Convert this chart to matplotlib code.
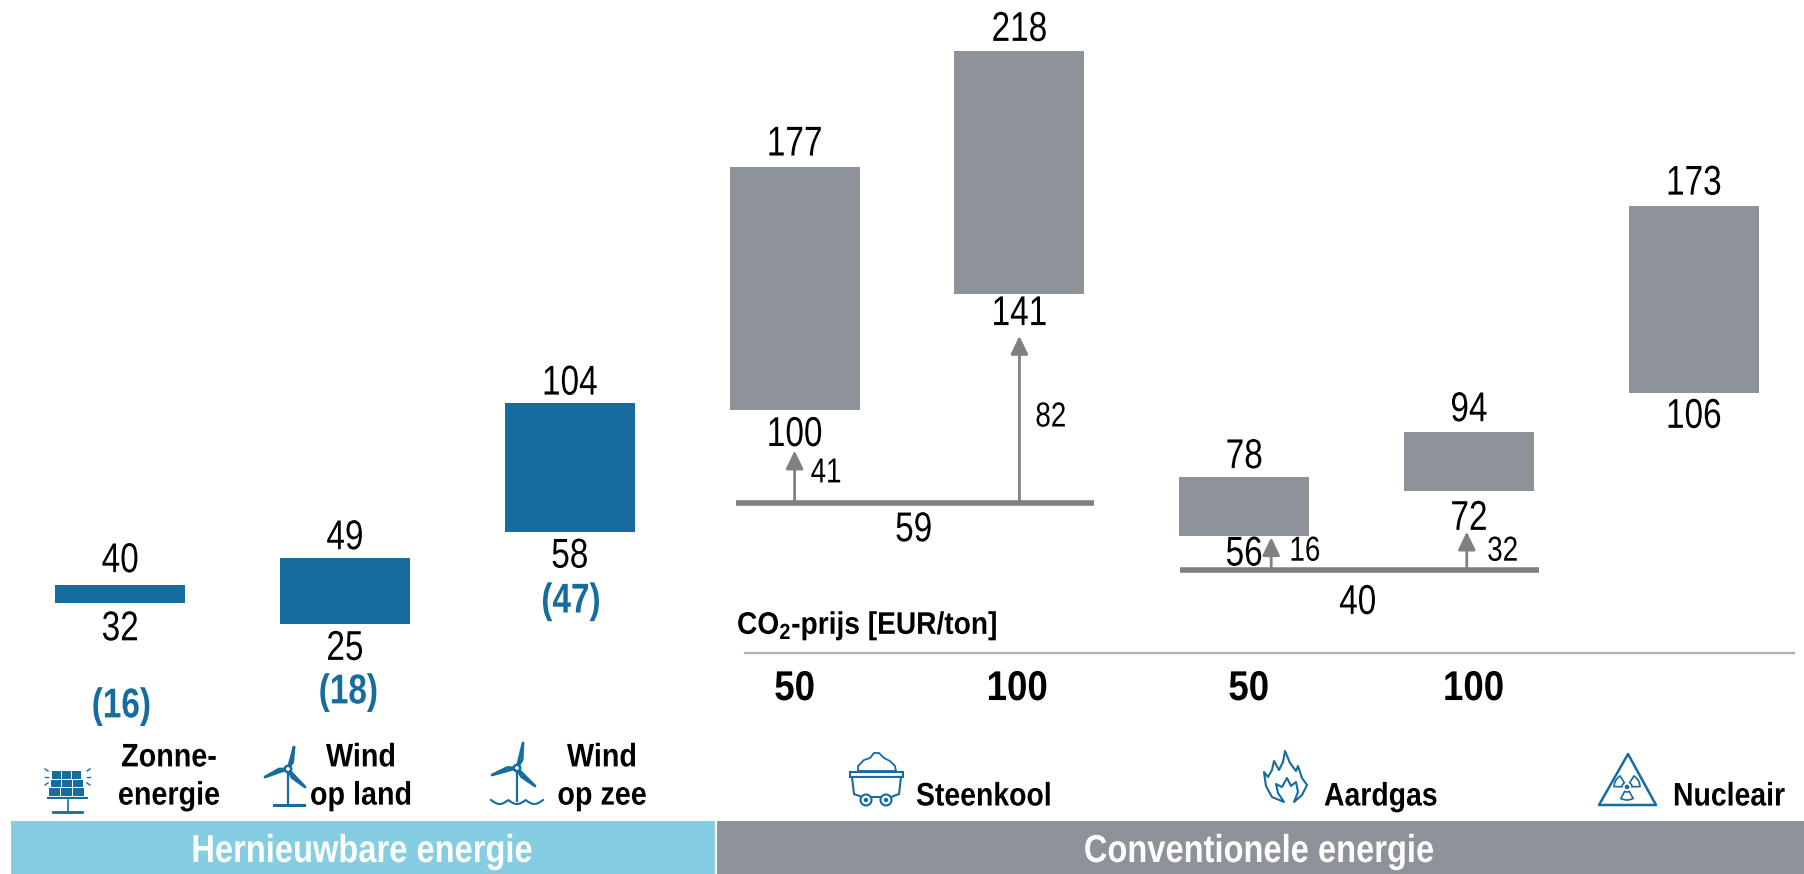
import matplotlib
matplotlib.use("Agg")
import matplotlib.pyplot as plt
import matplotlib.patheffects as pe
from matplotlib.patches import Rectangle, Polygon, Circle, Wedge
from matplotlib.transforms import Affine2D
import numpy as np

plt.rcParams['font.family'] = ['Liberation Sans', 'DejaVu Sans']

# printed values
high_labels = [40, 49, 104, 177, 218, 78, 94, 173]
low_labels = [32, 25, 58, 100, 141, 56, 72, 106]
paren_labels = ['(16)', '(18)', '(47)']
co2_prices = ['50', '100', '50', '100']
categories = ['Zonne-\nenergie', 'Wind\nop land', 'Wind\nop zee']
fuel_names = ['Steenkool', 'Aardgas', 'Nucleair']
group_names = ['Hernieuwbare energie', 'Conventionele energie']
base_labels = [59, 40]
arrow_labels = [41, 82, 16, 32]

# bar ends as drawn in the picture (the picture is not quite to scale)
bar_high = [39, 48.5, 104, 188.5, 230, 77.5, 93.5, 174.5]
bar_low = [32.5, 25, 58, 101.5, 143, 56.5, 72.5, 107.5]
base_levels = [68.3, 44.3]
arrow_tops = [87, 128, 56, 58]

BLUE = '#166b9f'
GREY = '#8e9299'
LINE = '#808080'
W, H = 1804, 874


class Condense(pe.AbstractPathEffect):
    # no narrow font installed, so squeeze the glyphs sideways round cx
    def __init__(self, sx, cx):
        super().__init__()
        self.sx = sx
        self.cx = cx

    def draw_path(self, renderer, gc, tpath, affine, rgbFace=None):
        squeeze = Affine2D().translate(-self.cx, 0).scale(self.sx, 1).translate(self.cx, 0)
        renderer.draw_path(gc, tpath, affine + squeeze, rgbFace)


narrow = []


def squeezed(t, sx):
    narrow.append((t, sx))
    return t


fig = plt.figure(figsize=(W / 100, H / 100), dpi=100)
ax = fig.add_axes([0, 0, 1, 1])
# one category = 224.8 px, one unit = 2.796 px
ax.set_xlim(-120.2 / 224.8, (W - 120.2) / 224.8)
ax.set_ylim((693.8 - H) / 2.796, 693.8 / 2.796)
ax.axis('off')

x = np.arange(8)
colors = [BLUE] * 3 + [GREY] * 5
ax.bar(x, np.array(bar_high) - np.array(bar_low), bottom=bar_low, width=0.578, color=colors)

for i in x:
    off = {0: 17, 2: 14, 3: 16, 4: 15, 6: 16, 7: 16}.get(i, 14.4)
    squeezed(ax.annotate(str(high_labels[i]), (i, bar_high[i]), xytext=(0, off), textcoords='offset points',
                         ha='center', va='center', fontsize=30), 0.8)
    off = {0: -19, 4: -14.5, 5: -13.5, 6: -20, 7: -17}.get(i, -18)
    squeezed(ax.annotate(str(low_labels[i]), (i, bar_low[i]), xytext=(0, off), textcoords='offset points',
                         ha='center', va='center', fontsize=30), 0.8)

# (values between brackets)
for xp, lab, yy in zip([0.005, 1.015, 2.005], paren_labels, [-4.5, 0.5, 33], strict=True):
    squeezed(ax.text(xp, yy, lab, ha='center', va='center', fontsize=30, fontweight='bold', color=BLUE), 0.8)

# base lines + arrows
ax.plot([2.74, 4.33], [base_levels[0]] * 2, color=LINE, lw=4, solid_capstyle='butt')
ax.plot([4.716, 6.31], [base_levels[1]] * 2, color=LINE, lw=4, solid_capstyle='butt')
squeezed(ax.text(3.53, 58.5, str(base_labels[0]), ha='center', va='center', fontsize=30), 0.8)
squeezed(ax.text(5.505, 32.5, str(base_labels[1]), ha='center', va='center', fontsize=30), 0.8)

arrow_x = [3.0, 4.0, 5.12, 5.99]
arrow_base = [base_levels[0], base_levels[0], base_levels[1] + 1, base_levels[1] + 1]
arrow_text = [(3.14, 79), (4.14, 99), (5.27, 51), (6.15, 51)]
for ax_x, b, t, lab, pos in zip(arrow_x, arrow_base, arrow_tops, arrow_labels, arrow_text, strict=True):
    ax.annotate('', xy=(ax_x, t), xytext=(ax_x, b),
                arrowprops=dict(arrowstyle='-|>,head_width=0.24,head_length=0.5', color=LINE, lw=2,
                                mutation_scale=22, shrinkA=0, shrinkB=0))
    squeezed(ax.text(pos[0], pos[1], str(lab), ha='center', va='center', fontsize=25), 0.8)

# CO2 row
for xp, lab in zip([3.0, 3.99, 5.02, 6.02], co2_prices, strict=True):
    squeezed(ax.text(xp, 1.7, lab, ha='center', va='center', fontsize=30, fontweight='bold'), 0.88)

# pixel layer for the labels, bands and icons
px = fig.add_axes([0, 0, 1, 1], facecolor='none')
px.set_xlim(0, W)
px.set_ylim(H, 0)
px.axis('off')

px.plot([745, 1794], [653, 653], color='#a9b0b7', lw=1.6)
squeezed(px.text(737, 626, r'CO$_{\mathregular{2}}$-prijs [EUR/ton]', ha='left', va='center', fontsize=22.5,
                 fontweight='bold'), 0.9)

px.add_patch(Rectangle((11, 821), 705, 53, color='#85cde0', lw=0))
px.add_patch(Rectangle((716, 821), W - 716, 53, color=GREY, lw=0))
px.plot([716, 716], [821, 874], color='white', lw=1.5)
squeezed(px.text(362, 852, group_names[0], ha='center', va='center', color='white', fontsize=28,
                 fontweight='bold'), 0.84)
squeezed(px.text(1259, 852, group_names[1], ha='center', va='center', color='white', fontsize=28,
                 fontweight='bold'), 0.84)

for cx, lab in zip([169, 361, 602], categories, strict=True):
    squeezed(px.text(cx, 777, lab, ha='center', va='center', fontsize=23.5, fontweight='bold',
                     linespacing=1.3), 0.88)
for lx, lab in zip([916, 1324, 1673], fuel_names, strict=True):
    squeezed(px.text(lx, 797, lab, ha='left', va='center', fontsize=23.5, fontweight='bold'), 0.87)


def turbine(hub, tips, foot):
    for tip in tips:
        v = np.array(tip) - np.array(hub)
        n = np.array([-v[1], v[0]]) * 0.12
        m = np.array(hub) + v * 0.35 + n
        px.add_patch(Polygon([hub, m, tip], fc='white', ec=BLUE, lw=2, joinstyle='round'))
    px.add_patch(Circle(hub, 3.2, fc='white', ec=BLUE, lw=1.8))
    px.plot([hub[0], hub[0]], [hub[1] + 3, foot], color=BLUE, lw=1.6)


# solar panel
for r in range(3):
    y0 = 771 + r * 8.5
    for c in range(3):
        x0 = 52 - (r * 1.3) + c * (10.2 + r * 0.9)
        px.add_patch(Rectangle((x0, y0), 9 + r * 0.9, 7.5, color=BLUE, lw=0))
px.plot([48, 87], [798, 798], color=BLUE, lw=1.5)
px.plot([67.5, 67.5], [800, 812], color=BLUE, lw=1.2)
px.plot([53, 82], [812, 812], color=BLUE, lw=2)
for sx, s in [(46, -1), (89, 1)]:
    px.plot([sx - s * 2, sx + s], [771, 769], color=BLUE, lw=1)
    px.plot([sx - s * 2, sx + s], [777, 777], color=BLUE, lw=1)
    px.plot([sx - s * 2, sx + s], [783, 785], color=BLUE, lw=1)

# wind on land / at sea
turbine((288, 769), [(294, 747), (265, 777), (305, 787)], 804)
px.plot([274, 304], [804.5, 804.5], color=BLUE, lw=2.2)
turbine((517, 768), [(523, 743), (492, 775), (535, 786)], 801)
wx = np.linspace(491, 543, 90)
px.plot(wx, 800 + 4 * np.abs(np.sin((wx - 491) / 52 * 3 * np.pi)), color=BLUE, lw=1.5)

# coal cart
pile = [(858, 771), (858, 766), (864, 760), (870, 758), (874, 753), (879, 753), (884, 758), (890, 761),
        (895, 766), (896, 771)]
px.add_patch(Polygon(pile, fc='white', ec=BLUE, lw=1.3))
px.add_patch(Rectangle((850, 772), 53, 5, fc='white', ec=BLUE, lw=1.5))
px.add_patch(Polygon([(852, 777), (901, 777), (899, 794), (891, 797), (862, 797), (854, 794)],
                     fc='white', ec=BLUE, lw=1.5))
for wx0 in (866, 886):
    px.add_patch(Circle((wx0, 800), 5.5, fc='white', ec=BLUE, lw=1.5))
    px.add_patch(Circle((wx0, 800), 1.5, color=BLUE))

# flame
flame = [(1284, 802), (1272, 797), (1266, 786), (1264, 772), (1268, 777), (1272, 770), (1274, 761), (1279, 770),
         (1283, 762), (1285, 751), (1290, 763), (1296, 771), (1298, 766), (1302, 778), (1307, 785), (1302, 795),
         (1294, 802), (1298, 792), (1296, 782), (1291, 786), (1287, 778), (1282, 787), (1276, 784), (1278, 793)]
px.add_patch(Polygon(flame, fc='white', ec=BLUE, lw=1.5, joinstyle='round'))

# radiation sign
px.add_patch(Polygon([(1628, 754), (1656, 805), (1599, 805)], fc='white', ec=BLUE, lw=1.8, joinstyle='round'))
for a in (90, 210, 330):
    px.add_patch(Wedge((1627, 787), 13, a - 28, a + 28, width=8, edgecolor=BLUE, fill=False, lw=1.2))
px.add_patch(Circle((1627, 787), 1.6, color=BLUE))

renderer = fig.canvas.get_renderer()
for t, sx in narrow:
    bb = t.get_window_extent(renderer)
    cx = bb.x0 if t.get_ha() == 'left' else (bb.x0 + bb.x1) / 2
    t.set_path_effects([Condense(sx, cx)])

fig.savefig('out.png', dpi=100)
